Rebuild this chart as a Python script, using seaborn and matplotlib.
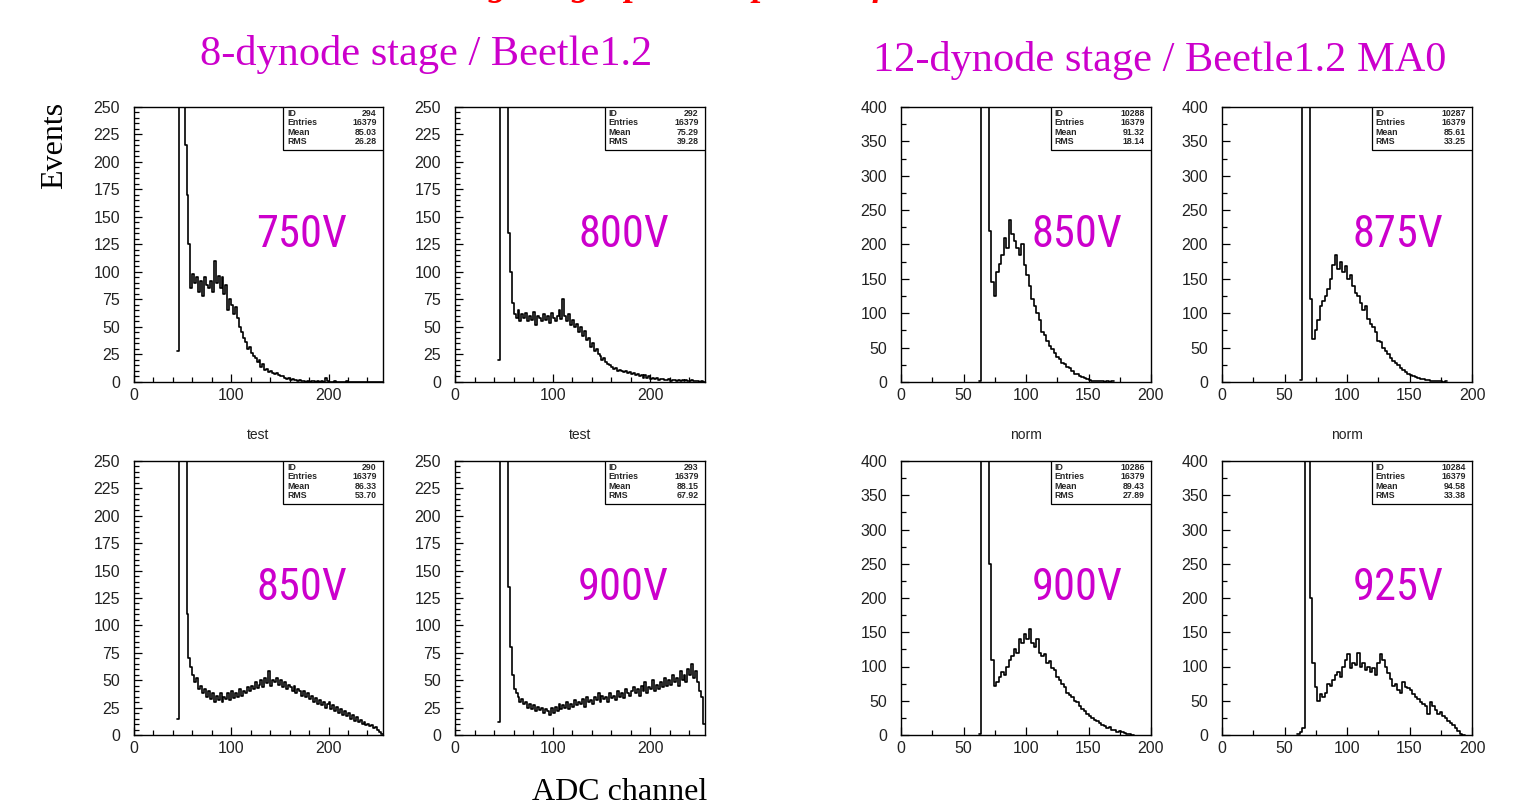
import numpy as np
import pandas as pd
import seaborn as sns
import matplotlib
matplotlib.use("Agg")
import matplotlib.pyplot as plt
from matplotlib.ticker import MultipleLocator
from matplotlib.patches import Rectangle
from matplotlib import font_manager

# ---------------------------------------------------------------------------
# Pulse-height spectra, stored as counts in 2-channel bins starting at a
# given ADC channel (empty bins before the start are left out).
# ---------------------------------------------------------------------------
BIN = 2

# 8-dynode stage / Beetle1.2
hv_8dyn = ["750V", "800V", "850V", "900V"]
start_8dyn = [44, 44, 44, 44]
counts_750 = [28, 600, 1800, 1400, 215, 170, 125, 85, 98, 90, 95, 82, 92, 78, 95, 88,
              85, 92, 82, 110, 90, 96, 85, 95, 80, 88, 65, 75, 70, 62, 68, 58, 50, 45,
              40, 36, 30, 32, 26, 24, 22, 18, 20, 14, 16, 11, 12, 9, 10, 8, 7, 8, 6, 5,
              5, 4, 3, 4, 2, 3, 2, 2, 1, 2, 1, 1, 0, 1, 0, 1, 1, 0, 1, 0, 1, 0, 4, 1,
              0, 0, 0, 1, 0, 0, 0, 0, 0, 1, 0, 0, 0, 0, 0, 0, 0, 0, 0, 0, 0, 0, 0, 0, 0,
              0, 0, 0]
counts_800 = [20, 500, 1600, 1500, 400, 135, 100, 72, 62, 58, 65, 55, 62, 58, 63, 55,
              60, 56, 64, 52, 60, 58, 55, 62, 56, 60, 54, 63, 58, 55, 60, 65, 57, 75,
              60, 55, 62, 52, 56, 50, 53, 45, 50, 42, 46, 38, 40, 32, 35, 28, 30, 25,
              24, 20, 22, 18, 16, 15, 14, 12, 13, 10, 11, 10, 9, 10, 8, 9, 7, 8, 6, 7,
              5, 6, 4, 6, 4, 5, 3, 4, 3, 4, 2, 3, 3, 2, 2, 3, 1, 2, 2, 1, 2, 1, 2, 1,
              2, 1, 1, 2, 1, 1, 1, 0, 1, 0]
counts_850a = [15, 400, 1500, 1400, 350, 110, 70, 62, 55, 48, 52, 42, 45, 38, 42, 35,
               40, 33, 38, 30, 36, 32, 38, 30, 35, 33, 38, 32, 40, 34, 38, 35, 42, 36,
               40, 38, 44, 40, 45, 42, 48, 43, 46, 50, 44, 52, 47, 58, 45, 50, 48, 52,
               46, 50, 44, 48, 42, 46, 44, 40, 45, 38, 42, 40, 36, 40, 35, 38, 33, 36,
               30, 34, 28, 32, 27, 30, 25, 28, 30, 24, 27, 22, 26, 20, 24, 18, 22, 17,
               20, 15, 18, 13, 16, 12, 14, 10, 12, 9, 10, 8, 9, 6, 7, 5, 3, 1]
counts_900a = [12, 400, 1400, 1300, 300, 135, 80, 55, 42, 38, 35, 30, 33, 28, 30, 25,
               28, 24, 27, 22, 26, 23, 25, 20, 24, 22, 18, 25, 20, 26, 22, 28, 24, 27,
               25, 30, 24, 28, 26, 32, 27, 30, 28, 33, 26, 35, 30, 32, 28, 35, 32, 38,
               30, 36, 33, 35, 30, 38, 34, 36, 32, 40, 35, 38, 34, 42, 38, 36, 40, 44,
               38, 42, 36, 45, 40, 48, 38, 44, 42, 50, 40, 46, 42, 48, 44, 52, 45, 50,
               46, 55, 48, 52, 45, 58, 50, 55, 48, 60, 55, 65, 52, 58, 48, 40, 35, 10]
id_8dyn = ["294", "292", "290", "293"]
entries_8dyn = ["16379", "16379", "16379", "16379"]
mean_8dyn = ["85.03", "75.29", "86.33", "88.15"]
rms_8dyn = ["26.28", "39.28", "53.70", "67.92"]

# 12-dynode stage / Beetle1.2 MA0
hv_12dyn = ["850V", "875V", "900V", "925V"]
start_12dyn = [62, 62, 62, 60]
counts_850b = [2, 900, 2000, 1200, 220, 145, 125, 160, 172, 185, 210, 195, 235, 215,
               205, 195, 185, 200, 170, 155, 140, 120, 110, 100, 90, 72, 68, 60, 52, 48,
               42, 36, 33, 28, 26, 22, 20, 16, 12, 12, 9, 7, 6, 4, 3, 2, 2, 1, 1, 1, 0,
               1, 0, 1]
counts_875 = [3, 1200, 2200, 900, 120, 62, 75, 90, 110, 118, 125, 135, 150, 170, 185,
              165, 175, 160, 168, 150, 155, 140, 130, 125, 115, 105, 110, 92, 85, 80, 72,
              60, 58, 50, 45, 40, 35, 30, 28, 25, 20, 18, 15, 12, 10, 9, 7, 6, 5, 4, 3,
              3, 2, 2, 1, 1, 1, 0, 1]
counts_900b = [2, 900, 2000, 1300, 250, 110, 72, 78, 85, 92, 88, 100, 110, 115, 125,
               120, 140, 135, 148, 140, 155, 135, 128, 140, 120, 115, 118, 105, 108, 98,
               95, 85, 80, 75, 70, 62, 58, 55, 50, 48, 42, 38, 35, 30, 28, 25, 22, 20,
               18, 15, 13, 10, 12, 8, 7, 5, 6, 4, 3, 2, 1, 0]
counts_925 = [2, 4, 10, 1800, 1500, 200, 105, 70, 50, 60, 55, 62, 75, 72, 80, 88, 92,
              85, 100, 110, 118, 98, 105, 102, 120, 100, 105, 95, 100, 92, 98, 88, 105,
              118, 110, 100, 90, 82, 72, 75, 65, 62, 78, 70, 68, 65, 60, 55, 52, 48, 45,
              42, 30, 48, 42, 36, 30, 34, 28, 25, 20, 17, 14, 10, 6, 2, 0]
id_12dyn = ["10288", "10287", "10286", "10284"]
entries_12dyn = ["16379", "16379", "16379", "16379"]
mean_12dyn = ["91.32", "85.61", "89.43", "94.58"]
rms_12dyn = ["18.14", "33.25", "27.89", "33.38"]

panel_titles = ["8-dynode stage / Beetle1.2", "12-dynode stage / Beetle1.2 MA0"]
under_labels = ["test", "norm"]

# ---------------------------------------------------------------------------
sns.set_style("ticks")
plt.rcParams["font.family"] = ["Liberation Sans", "DejaVu Sans"]

W, H = 1520, 809
fig = plt.figure(figsize=(W / 100, H / 100), dpi=100)
MAGENTA = "#cc00cc"
SANS = ["Liberation Sans", "DejaVu Sans"]
SERIF = ["Liberation Serif", "DejaVu Serif"]

# a condensed face for the big voltage labels, if one is available
installed = {f.name for f in font_manager.fontManager.ttflist}
NARROW = [n for n in ["Liberation Sans Narrow", "Roboto Condensed",
                      "Open Sans Condensed", "Liberation Sans"] if n in installed]
narrow_is_condensed = NARROW[0] != "Liberation Sans"
HV_SIZE = 32 if narrow_is_condensed else 27


def px_rect(x0, x1, ytop, ybot):
    return [x0 / W, 1 - ybot / H, (x1 - x0) / W, (ybot - ytop) / H]


def draw_panel(rect, start, counts, xmax, ymax, xmajor, xminor, ymajor, yminor,
               hv, stats, label_x):
    ax = fig.add_axes(rect)
    counts = [float(v) for v in counts]
    edges = [float(start + BIN * k) for k in range(len(counts) + 1)]
    df = pd.DataFrame({"adc": [e + BIN / 2 for e in edges[:-1]], "n": counts})
    sns.histplot(data=df, x="adc", weights="n", bins=edges, element="step",
                 fill=False, color="black", linewidth=1.2, ax=ax)
    ax.set_xlim(0, xmax)
    ax.set_ylim(0, ymax)
    ax.set_xlabel("")
    ax.set_ylabel("")
    ax.xaxis.set_major_locator(MultipleLocator(xmajor))
    ax.xaxis.set_minor_locator(MultipleLocator(xminor))
    ax.yaxis.set_major_locator(MultipleLocator(ymajor))
    ax.yaxis.set_minor_locator(MultipleLocator(yminor))
    ax.tick_params(which="both", direction="in", top=False, right=False,
                   color="black", width=0.9)
    ax.tick_params(which="major", length=6, labelsize=11.5, labelcolor="#222222")
    ax.tick_params(which="minor", length=3.5)
    ax.tick_params(axis="y", which="major", pad=10)
    ax.tick_params(axis="x", which="major", pad=4)
    for lab in ax.get_xticklabels() + ax.get_yticklabels():
        lab.set_family(SANS)
    for sp in ax.spines.values():
        sp.set_visible(True)
        sp.set_color("black")
        sp.set_linewidth(1.0)

    # statistics box
    ax.add_patch(Rectangle((0.6, 0.843), 0.4, 0.157, transform=ax.transAxes,
                           facecolor="white", edgecolor="black", linewidth=0.9,
                           zorder=5))
    names = ["ID", "Entries", "Mean", "RMS"]
    for k, (nm, val) in enumerate(zip(names, stats)):
        yy = 0.976 - 0.034 * k
        ax.text(0.615, yy, nm, transform=ax.transAxes, fontsize=6.3,
                fontweight="bold", va="center", ha="left", zorder=6, family=SANS)
        ax.text(0.975, yy, val, transform=ax.transAxes, fontsize=6.3,
                fontweight="bold", va="center", ha="right", zorder=6, family=SANS)

    ax.text(label_x, 0.535, hv, transform=ax.transAxes, fontsize=HV_SIZE,
            color=MAGENTA, ha="center", va="center", family=NARROW)
    return ax


cols_8 = [(134, 383), (455, 705)]
cols_12 = [(901, 1151), (1222, 1472)]
rows = [(107, 382), (461, 735)]

counts_8 = [counts_750, counts_800, counts_850a, counts_900a]
counts_12 = [counts_850b, counts_875, counts_900b, counts_925]

for i in range(4):
    r, c = divmod(i, 2)
    x0, x1 = cols_8[c]
    yt, yb = rows[r]
    draw_panel(px_rect(x0, x1, yt, yb), start_8dyn[i], counts_8[i], 256, 250,
               100, 20, 25, 5, hv_8dyn[i],
               [id_8dyn[i], entries_8dyn[i], mean_8dyn[i], rms_8dyn[i]], 0.675)
    x0, x1 = cols_12[c]
    draw_panel(px_rect(x0, x1, yt, yb), start_12dyn[i], counts_12[i], 200, 400,
               50, 25, 50, 25, hv_12dyn[i],
               [id_12dyn[i], entries_12dyn[i], mean_12dyn[i], rms_12dyn[i]], 0.705)

# labels below the upper row of each group
for (x0, x1) in cols_8:
    fig.text((x0 + x1) / 2 / W, 1 - 435 / H, under_labels[0], ha="center",
             va="center", fontsize=10, color="#222222", family=SANS)
for (x0, x1) in cols_12:
    fig.text((x0 + x1) / 2 / W, 1 - 435 / H, under_labels[1], ha="center",
             va="center", fontsize=10, color="#222222", family=SANS)

# group headings
fig.text(426 / W, 1 - 55 / H, panel_titles[0], ha="center", va="center",
         fontsize=30.5, color=MAGENTA, family=SERIF)
fig.text(1160 / W, 1 - 60 / H, panel_titles[1], ha="center", va="center",
         fontsize=30.5, color=MAGENTA, family=SERIF)

# common axis titles
fig.text(55 / W, 1 - 145 / H, "Events", rotation=90, ha="center", va="center",
         fontsize=23, color="black", family=SERIF)
fig.text(620 / W, 1 - 793 / H, "ADC channel", ha="center", va="center",
         fontsize=23, color="black", family=SERIF)

# page heading, sitting at the very top edge of the sheet
fig.text(0.47, 1 + 5 / H, "Tuning: single photon spectra of MaPMTs",
         ha="center", va="baseline", fontsize=26, color="red",
         fontweight="bold", style="italic", family=SERIF)

fig.savefig("out.png", dpi=100, facecolor="white")
